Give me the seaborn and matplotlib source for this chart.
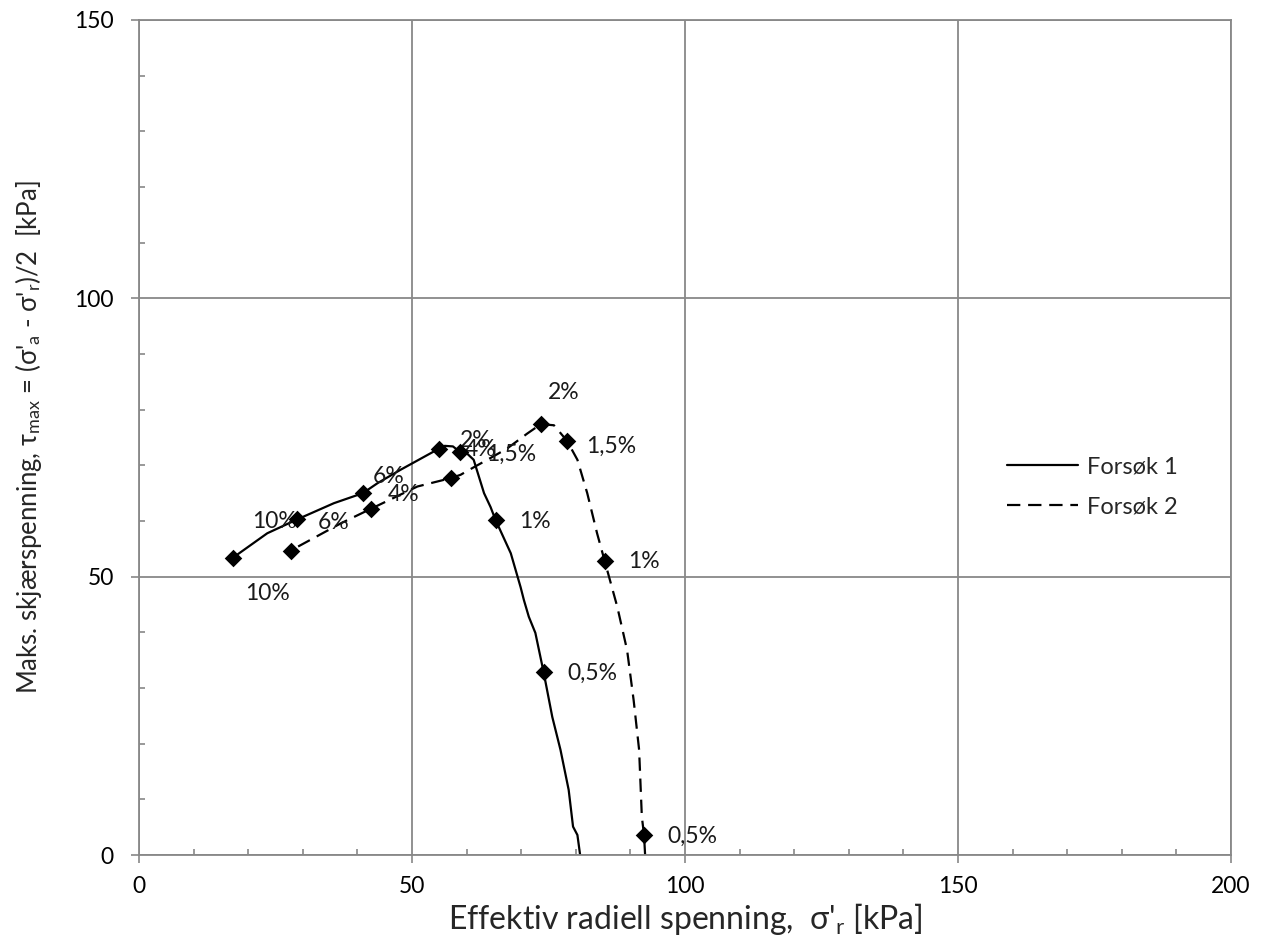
import numpy as np
import pandas as pd
import matplotlib
matplotlib.use("Agg")
import matplotlib.pyplot as plt
import seaborn as sns
from matplotlib.ticker import MultipleLocator

# ---- data ----
f1_x = [80.8, 80.3, 79.5, 78.7, 77.2, 75.7, 74.1, 72.6, 71.4, 70.5, 69.9, 68.1, 65.3,
        64.4, 63.2, 61.3, 60.0, 58.8, 57.5, 56.0, 54.95, 47.9, 43.7, 41.0, 35.7, 29.0,
        23.5, 17.2]
f1_y = [0.0, 3.6, 5.1, 11.7, 18.9, 24.8, 32.9, 39.9, 42.8, 45.8, 48.1, 54.2, 60.2,
        62.5, 65.0, 71.0, 72.2, 72.4, 73.4, 73.5, 73.0, 69.2, 66.8, 65.0, 63.2, 60.3,
        57.8, 53.4]

f2_x = [92.7, 92.5, 92.1, 91.6, 90.6, 89.4, 87.6, 85.3, 83.9, 82.1, 80.3, 78.4, 76.0,
        73.6, 71.1, 67.4, 63.8, 61.4, 58.9, 57.1, 51.0, 42.5, 37.0, 27.8]
f2_y = [0.0, 3.6, 6.9, 18.9, 27.8, 36.8, 44.6, 52.8, 57.8, 65.0, 71.0, 74.4, 77.2,
        77.4, 75.7, 73.0, 71.0, 69.7, 68.3, 67.7, 66.2, 62.2, 59.6, 54.7]

# strain markers
m1_x = [74.1, 65.3, 58.8, 54.95, 41.0, 29.0, 17.2]
m1_y = [32.9, 60.2, 72.4, 73.0, 65.0, 60.3, 53.4]
m2_x = [92.5, 85.3, 78.4, 73.6, 57.1, 42.5, 27.8]
m2_y = [3.6, 52.8, 74.4, 77.4, 67.7, 62.2, 54.7]

# data labels (text, x, y)
lab_text = ["0,5%", "1%", "1,5%", "2%", "4%", "6%", "10%",
            "0,5%", "1%", "1,5%", "2%", "4%", "6%", "10%"]
lab_x = [83.0, 72.5, 68.1, 61.7, 62.6, 45.8, 24.8,
         101.3, 92.5, 86.4, 77.7, 48.5, 35.7, 23.5]
lab_y = [32.6, 59.9, 72.0, 74.5, 72.9, 68.0, 59.9,
         3.3, 52.7, 73.5, 83.1, 64.7, 59.7, 47.0]

series_names = ["Forsøk 1", "Forsøk 2"]
x_ticks = [0, 50, 100, 150, 200]
y_ticks = [0, 50, 100, 150]

# ---- build frames ----
lines = pd.concat([
    pd.DataFrame({"x": f1_x, "y": f1_y, "serie": series_names[0]}),
    pd.DataFrame({"x": f2_x, "y": f2_y, "serie": series_names[1]}),
], ignore_index=True)
marks = pd.concat([
    pd.DataFrame({"x": m1_x, "y": m1_y, "serie": series_names[0]}),
    pd.DataFrame({"x": m2_x, "y": m2_y, "serie": series_names[1]}),
], ignore_index=True)

sns.set_style("white")
plt.rcParams["font.family"] = ["Lato", "DejaVu Sans"]
plt.rcParams["mathtext.fontset"] = "custom"
plt.rcParams["mathtext.rm"] = "Lato"
plt.rcParams["mathtext.it"] = "Lato:italic"

fig = plt.figure(figsize=(12.61, 9.51), dpi=100)
ax = fig.add_axes([0.1102, 0.1009, 0.9762 - 0.1102, 0.979 - 0.1009])

sns.lineplot(data=lines, x="x", y="y", style="serie", sort=False, estimator=None,
             color="black", linewidth=1.6,
             dashes={series_names[0]: "", series_names[1]: (6, 3.5)}, ax=ax)
sns.scatterplot(data=marks, x="x", y="y", marker="D", s=80, color="black",
                edgecolor="black", linewidth=0, legend=False, ax=ax, zorder=5)

for t, x, y in zip(lab_text, lab_x, lab_y):
    ax.text(x, y, t, ha="center", va="center", fontsize=16.5, color="#1a1a1a")

ax.set_xlim(0, 200)
ax.set_ylim(0, 150)
ax.set_xticks(x_ticks)
ax.set_yticks(y_ticks)
ax.xaxis.set_minor_locator(MultipleLocator(10))
ax.yaxis.set_minor_locator(MultipleLocator(10))
ax.grid(True, which="major", color="#888888", linewidth=1.3)
ax.set_axisbelow(True)
for s in ax.spines.values():
    s.set_color("#888888")
    s.set_linewidth(1.3)
ax.tick_params(which="major", direction="out", length=6, width=1.2, color="#888888",
               labelsize=16.5, labelcolor="black")
ax.tick_params(axis="x", which="major", pad=9)
ax.tick_params(axis="y", which="major", pad=12)
ax.tick_params(which="minor", direction="in", length=4, width=1.2, color="#888888")
ax.tick_params(axis="x", which="both", bottom=True)
ax.tick_params(axis="y", which="both", left=True)

ax.set_xlabel("Effektiv radiell spenning,  σ'$_{\\mathrm{r}}$ [kPa]", fontsize=23, labelpad=3)
ax.set_ylabel("Maks. skjærspenning, τ$_{\\mathrm{max}}$ = (σ'$_{\\mathrm{a}}$ - σ'$_{\\mathrm{r}}$)/2  [kPa]",
              fontsize=18.5, labelpad=22)

leg = ax.legend(loc="center left", bbox_to_anchor=(0.795, 0.441), frameon=False,
                fontsize=17, handlelength=3.0, handletextpad=0.4, labelspacing=0.8,
                borderpad=0, borderaxespad=0)

fig.savefig("out.png", dpi=100)
